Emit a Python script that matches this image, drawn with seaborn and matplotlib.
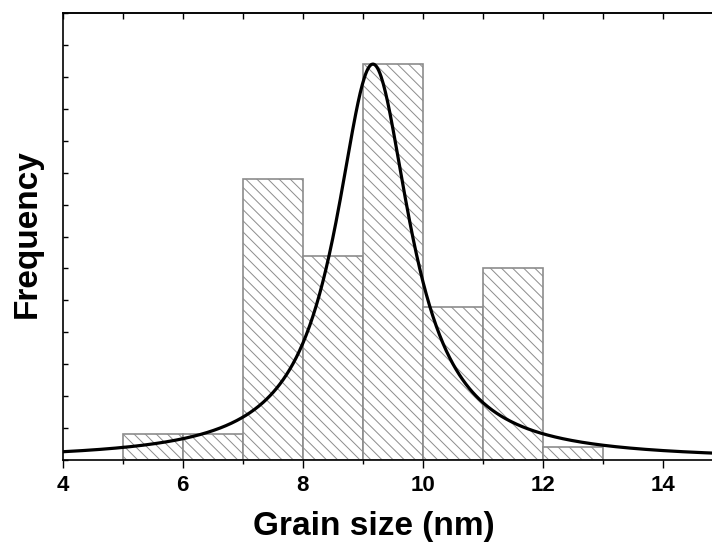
import numpy as np
import pandas as pd
import matplotlib
matplotlib.use("Agg")
import matplotlib.pyplot as plt
import seaborn as sns
from matplotlib.ticker import MultipleLocator

# ---- data ----
bin_edges = [5, 6, 7, 8, 9, 10, 11, 12, 13]
counts = [2, 2, 22, 16, 31, 12, 15, 1]
# Lorentzian fit shown on the chart
fit_center = 9.17
fit_hwhm = 0.755
fit_amplitude = 31.0
x_ticks = [4, 6, 8, 10, 12, 14]
x_label = "Grain size (nm)"
y_label = "Frequency"

sns.set_theme(style="white")
plt.rcParams["font.family"] = ["Liberation Sans", "DejaVu Sans"]
plt.rcParams["text.color"] = "black"
plt.rcParams["axes.labelcolor"] = "black"
plt.rcParams["xtick.color"] = "black"
plt.rcParams["ytick.color"] = "black"
plt.rcParams["hatch.color"] = "#8c8c8c"
plt.rcParams["hatch.linewidth"] = 0.7

centers = [(a + b) / 2 for a, b in zip(bin_edges[:-1], bin_edges[1:])]
df = pd.DataFrame({"size": centers, "count": counts})

fig = plt.figure(figsize=(7.12, 5.52), dpi=100)
ax = fig.add_axes([62.7 / 712, 1 - 460 / 552, 660 / 712, 447 / 552])

sns.histplot(data=df, x="size", weights="count", bins=bin_edges, ax=ax,
             facecolor="white", edgecolor="#8c8c8c", linewidth=1.2,
             hatch="\\\\\\", alpha=1)

xs = np.linspace(4, 15, 600)
ys = fit_amplitude * fit_hwhm ** 2 / ((xs - fit_center) ** 2 + fit_hwhm ** 2)
curve = pd.DataFrame({"x": xs, "y": ys})
sns.lineplot(data=curve, x="x", y="y", color="black", linewidth=2.3, ax=ax)

ax.set_xlim(4, 15)
ax.set_ylim(0, 35)
ax.set_xticks(x_ticks)
ax.set_xticklabels([str(t) for t in x_ticks], fontsize=16, fontweight="bold",
                   color="black")
ax.xaxis.set_minor_locator(MultipleLocator(1))
ax.yaxis.set_major_locator(MultipleLocator(2.5))
ax.set_yticklabels([])

for s in ["left", "bottom", "top", "right"]:
    ax.spines[s].set_color("black")
    ax.spines[s].set_linewidth(1.2)
ax.spines["right"].set_visible(False)

ax.tick_params(axis="x", which="major", direction="out", length=6, width=1,
               bottom=True, top=False, pad=5, colors="black")
ax.tick_params(axis="x", which="minor", direction="out", length=3, width=1,
               bottom=True, top=False, colors="black")
ax.tick_params(axis="y", which="both", direction="in", length=3.5, width=1,
               left=True, right=False, colors="black")

# top axis ticks (inward)
sec = ax.secondary_xaxis("top")
sec.set_xticks(range(4, 16))
sec.tick_params(direction="in", length=4, width=1, labeltop=False, colors="black")
sec.spines["top"].set_linewidth(1.2)

ax.set_xlabel(x_label, fontsize=24, fontweight="bold", color="black")
ax.set_ylabel(y_label, fontsize=24, fontweight="bold", color="black")
ax.xaxis.set_label_coords((374 - 62.7) / 660, -(526 - 460) / 447)
ax.yaxis.set_label_coords(-(62.7 - 27) / 660, 0.506)
ax.xaxis.label.set_verticalalignment("center")
ax.yaxis.label.set_verticalalignment("center")

fig.savefig("out.png", dpi=100)
